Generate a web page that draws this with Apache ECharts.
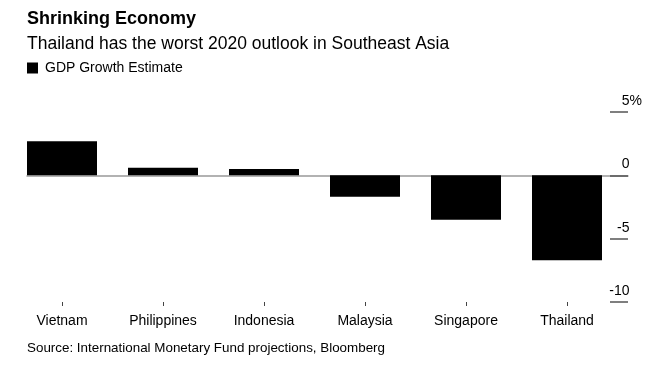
<!DOCTYPE html>
<html>
<head>
<meta charset="utf-8">
<script src="https://cdn.jsdelivr.net/npm/echarts@6/dist/echarts.min.js"></script>
<style>
  html, body { margin: 0; padding: 0; background: #fff; }
  #main { width: 660px; height: 377px; }
</style>
</head>
<body>
<div id="main"></div>
<script>
const countries = ['Vietnam', 'Philippines', 'Indonesia', 'Malaysia', 'Singapore', 'Thailand'];
const gdpGrowth = [2.7, 0.6, 0.5, -1.7, -3.5, -6.7];
const yTicks = [-10, -5, 0, 5];

window.onload = function () {
  const chart = echarts.init(document.getElementById('main'));
  const font = 'Liberation Sans, Arial, sans-serif';

  const option = {
    animation: false,
    backgroundColor: '#fff',
    textStyle: { fontFamily: font },
    title: [
      {
        text: 'Shrinking Economy',
        left: 22, top: 5,
        textStyle: { fontSize: 18, fontWeight: 'bold', color: '#000', fontFamily: font }
      },
      {
        text: 'Thailand has the worst 2020 outlook in Southeast Asia',
        left: 22, top: 30,
        textStyle: { fontSize: 17.5, fontWeight: 'normal', color: '#000', fontFamily: font }
      },
      {
        text: 'Source: International Monetary Fund projections, Bloomberg',
        left: 22, top: 337,
        textStyle: { fontSize: 13.4, fontWeight: 'normal', color: '#000', fontFamily: font }
      }
    ],
    legend: {
      left: 22, top: 56,
      icon: 'rect',
      itemWidth: 11, itemHeight: 11, itemGap: 10,
      textStyle: { fontSize: 14, color: '#000', fontFamily: font, padding: [0, 0, 0, 2] },
      data: ['GDP Growth Estimate']
    },
    grid: [
      { left: 11.5, right: 42.5, top: 112, bottom: 75 },
      { left: 27, right: 32, top: 112, bottom: 75 }
    ],
    xAxis: [
      {
        type: 'category', gridIndex: 0, data: countries,
        position: 'bottom',
        axisLine: { show: false, onZero: false },
        axisTick: { show: true, alignWithLabel: true, length: 4, lineStyle: { color: '#444' } },
        axisLabel: { fontSize: 14, color: '#000', margin: 12, fontFamily: font },
        splitLine: { show: false }
      },
      {
        type: 'value', gridIndex: 1, min: 0, max: 1,
        axisLine: { show: true, onZero: true, lineStyle: { color: '#999', width: 1.5 } },
        axisTick: { show: false },
        axisLabel: { show: false },
        splitLine: { show: false }
      }
    ],
    yAxis: [
      {
        type: 'value', gridIndex: 0, min: -10, max: 5, interval: 5,
        show: false
      },
      {
        type: 'value', gridIndex: 1, min: -10, max: 5, interval: 5,
        position: 'right',
        axisLine: { show: false, onZero: false },
        axisTick: { show: true, inside: true, length: 18, lineStyle: { color: '#555', width: 1.5 } },
        splitLine: { show: false },
        axisLabel: {
          align: 'right', verticalAlign: 'bottom', margin: 14,
          padding: [0, 0, 4, 0],
          fontSize: 14, color: '#000', fontFamily: font,
          // keep the digits aligned; only the top label shows the % sign
          formatter: function (v) {
            return '{n|' + v + '}' + (v === 5 ? '{p|%}' : '{h|%}');
          },
          rich: {
            n: { fontSize: 14, color: '#000', fontFamily: font },
            p: { fontSize: 14, color: '#000', fontFamily: font },
            h: { fontSize: 14, color: 'rgba(0,0,0,0)', fontFamily: font }
          }
        }
      }
    ],
    series: [
      {
        name: 'GDP Growth Estimate',
        type: 'bar',
        xAxisIndex: 0, yAxisIndex: 0,
        data: gdpGrowth,
        barWidth: 70,
        itemStyle: { color: '#000' }
      }
    ]
  };
  chart.setOption(option);
};
</script>
</body>
</html>
